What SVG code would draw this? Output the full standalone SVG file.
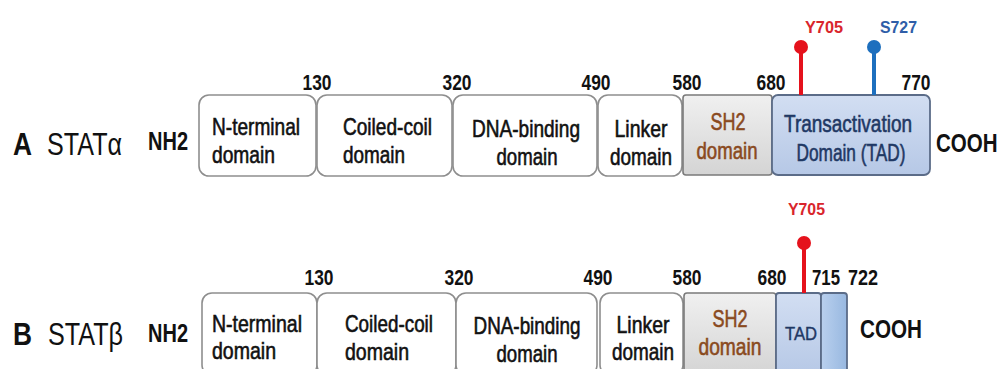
<svg xmlns="http://www.w3.org/2000/svg" width="1003" height="369" viewBox="0 0 1003 369">
<defs>
<linearGradient id="gSH2" x1="0" y1="0" x2="0" y2="1">
<stop offset="0" stop-color="#f0f0f0"/><stop offset="1" stop-color="#d4d4d4"/>
</linearGradient>
<linearGradient id="gTAD" x1="0" y1="0" x2="0" y2="1">
<stop offset="0" stop-color="#d2def2"/><stop offset="1" stop-color="#b6c8e6"/>
</linearGradient>
<linearGradient id="gEXT" x1="0" y1="0" x2="1" y2="0">
<stop offset="0" stop-color="#b9d0ee"/><stop offset="1" stop-color="#98b8e0"/>
</linearGradient>
</defs>
<style>
text{font-family:"Liberation Sans",Arial,sans-serif;fill:#111}
.lbl{font-size:32px}
.b{font-weight:bold}
.term{font-size:26px;font-weight:bold}
.bx{font-size:24px;stroke:#111;stroke-width:0.6}
.num{font-size:22px;font-weight:bold;text-anchor:middle}
.box{fill:#fff;stroke:#8e8e8e;stroke-width:1.6}
.sh2{fill:url(#gSH2);stroke:#7a7a7a;stroke-width:1.6}
.tad{fill:url(#gTAD);stroke:#5b6c88;stroke-width:1.8}
.ext{fill:url(#gEXT);stroke:#5b6c88;stroke-width:1.8}
.brown{fill:#8a4a1e;stroke:#8a4a1e}
.navy{fill:#1f3864;stroke:#1f3864}
.mid{text-anchor:middle}
.site{font-size:16px;font-weight:bold}
</style>

<g id="rowA-labels">
<text class="lbl b" x="13" y="155" textLength="19" lengthAdjust="spacingAndGlyphs">A</text>
<text class="lbl" x="47" y="155" textLength="75" lengthAdjust="spacingAndGlyphs">STATα</text>
<text class="term" x="148" y="150" textLength="40" lengthAdjust="spacingAndGlyphs">NH2</text>
<text class="term" transform="translate(936,152) scale(0.79,1)" x="0" y="0">COOH</text>
</g>

<g id="rowA-numbers">
<text class="num" x="317" y="90" textLength="29" lengthAdjust="spacingAndGlyphs">130</text>
<text class="num" x="457" y="90" textLength="29" lengthAdjust="spacingAndGlyphs">320</text>
<text class="num" x="596" y="90" textLength="29" lengthAdjust="spacingAndGlyphs">490</text>
<text class="num" x="687" y="90" textLength="29" lengthAdjust="spacingAndGlyphs">580</text>
<text class="num" x="771" y="90" textLength="29" lengthAdjust="spacingAndGlyphs">680</text>
<text class="num" x="916" y="90" textLength="29" lengthAdjust="spacingAndGlyphs">770</text>
</g>

<g id="A-nterminal">
<rect class="box" x="199" y="95" width="117" height="81" rx="10"/>
<text class="bx" x="212" y="135" textLength="88" lengthAdjust="spacingAndGlyphs">N-terminal</text>
<text class="bx" x="212" y="163" textLength="63" lengthAdjust="spacingAndGlyphs">domain</text>
</g>
<g id="A-coiledcoil">
<rect class="box" x="317" y="95" width="135" height="81" rx="10"/>
<text class="bx" x="343" y="135" textLength="89" lengthAdjust="spacingAndGlyphs">Coiled-coil</text>
<text class="bx" x="343" y="163" textLength="62" lengthAdjust="spacingAndGlyphs">domain</text>
</g>
<g id="A-dnabinding">
<rect class="box" x="453" y="95" width="144" height="81" rx="10"/>
<text class="bx mid" x="526" y="137" textLength="108" lengthAdjust="spacingAndGlyphs">DNA-binding</text>
<text class="bx mid" x="527" y="165" textLength="61" lengthAdjust="spacingAndGlyphs">domain</text>
</g>
<g id="A-linker">
<rect class="box" x="598" y="95" width="84" height="81" rx="10"/>
<text class="bx mid" x="641" y="137" textLength="53" lengthAdjust="spacingAndGlyphs">Linker</text>
<text class="bx mid" x="641" y="165" textLength="62" lengthAdjust="spacingAndGlyphs">domain</text>
</g>
<g id="A-sh2">
<rect class="sh2" x="683" y="95" width="89" height="80" rx="3"/>
<text class="bx mid brown" x="728" y="130" textLength="35" lengthAdjust="spacingAndGlyphs">SH2</text>
<text class="bx mid brown" x="727" y="159" textLength="61" lengthAdjust="spacingAndGlyphs">domain</text>
</g>
<g id="A-tad">
<rect class="tad" x="772" y="95" width="158" height="80" rx="6"/>
<text class="bx mid navy" x="848" y="132" textLength="128" lengthAdjust="spacingAndGlyphs">Transactivation</text>
<text class="bx mid navy" x="851" y="161" textLength="109" lengthAdjust="spacingAndGlyphs">Domain (TAD)</text>
</g>

<g id="rowB-labels">
<text class="lbl b" x="13" y="345" textLength="19" lengthAdjust="spacingAndGlyphs">B</text>
<text class="lbl" x="48" y="345" textLength="75" lengthAdjust="spacingAndGlyphs">STATβ</text>
<text class="term" x="148" y="342" textLength="40" lengthAdjust="spacingAndGlyphs">NH2</text>
<text class="term" x="860" y="338" textLength="62" lengthAdjust="spacingAndGlyphs">COOH</text>
</g>

<g id="rowB-numbers">
<text class="num" x="319" y="285" textLength="29" lengthAdjust="spacingAndGlyphs">130</text>
<text class="num" x="459" y="285" textLength="29" lengthAdjust="spacingAndGlyphs">320</text>
<text class="num" x="598" y="285" textLength="29" lengthAdjust="spacingAndGlyphs">490</text>
<text class="num" x="687" y="285" textLength="29" lengthAdjust="spacingAndGlyphs">580</text>
<text class="num" x="772" y="285" textLength="29" lengthAdjust="spacingAndGlyphs">680</text>
<text class="num" x="826" y="285" textLength="28" lengthAdjust="spacingAndGlyphs">715</text>
<text class="num" x="863" y="285" textLength="30" lengthAdjust="spacingAndGlyphs">722</text>
</g>

<g id="B-nterminal">
<rect class="box" x="202" y="293" width="115" height="82" rx="10"/>
<text class="bx" x="212" y="332" textLength="90" lengthAdjust="spacingAndGlyphs">N-terminal</text>
<text class="bx" x="212" y="359" textLength="64" lengthAdjust="spacingAndGlyphs">domain</text>
</g>
<g id="B-coiledcoil">
<rect class="box" x="317" y="293" width="139" height="82" rx="10"/>
<text class="bx" x="345" y="332" textLength="88" lengthAdjust="spacingAndGlyphs">Coiled-coil</text>
<text class="bx" x="345" y="360" textLength="64" lengthAdjust="spacingAndGlyphs">domain</text>
</g>
<g id="B-dnabinding">
<rect class="box" x="456" y="293" width="141" height="82" rx="10"/>
<text class="bx mid" x="527" y="334" textLength="107" lengthAdjust="spacingAndGlyphs">DNA-binding</text>
<text class="bx mid" x="527" y="362" textLength="61" lengthAdjust="spacingAndGlyphs">domain</text>
</g>
<g id="B-linker">
<rect class="box" x="600" y="293" width="83" height="82" rx="10"/>
<text class="bx mid" x="643" y="333" textLength="53" lengthAdjust="spacingAndGlyphs">Linker</text>
<text class="bx mid" x="643" y="360" textLength="62" lengthAdjust="spacingAndGlyphs">domain</text>
</g>
<g id="B-sh2">
<rect class="sh2" x="684" y="293" width="92" height="82" rx="3"/>
<text class="bx mid brown" x="730" y="327" textLength="35" lengthAdjust="spacingAndGlyphs">SH2</text>
<text class="bx mid brown" x="730" y="355" textLength="63" lengthAdjust="spacingAndGlyphs">domain</text>
</g>
<g id="B-tad">
<rect class="tad" x="776" y="293" width="45" height="82" rx="3"/>
<text class="mid navy" x="801" y="340" font-size="18" stroke-width="0.4" textLength="32" lengthAdjust="spacingAndGlyphs">TAD</text>
</g>
<g id="B-ext">
<rect class="ext" x="821" y="293" width="26" height="82" rx="3"/>
</g>

<g id="sites">
<line x1="801" y1="47" x2="801" y2="95" stroke="#e5121c" stroke-width="4"/>
<circle cx="801" cy="47" r="7" fill="#e5121c"/>
<text class="site" x="805" y="33" style="fill:#d9252c" textLength="38" lengthAdjust="spacingAndGlyphs">Y705</text>
<line x1="874" y1="47" x2="874" y2="95" stroke="#1d6fbe" stroke-width="4"/>
<circle cx="874" cy="47" r="7" fill="#1d6fbe"/>
<text class="site" x="880" y="33" style="fill:#2f5ea8" textLength="37" lengthAdjust="spacingAndGlyphs">S727</text>
<line x1="804" y1="243" x2="804" y2="293" stroke="#e5121c" stroke-width="4"/>
<circle cx="804" cy="243" r="7" fill="#e5121c"/>
<text class="site" x="788" y="215" style="fill:#d9252c" textLength="37" lengthAdjust="spacingAndGlyphs">Y705</text>
</g>
</svg>
